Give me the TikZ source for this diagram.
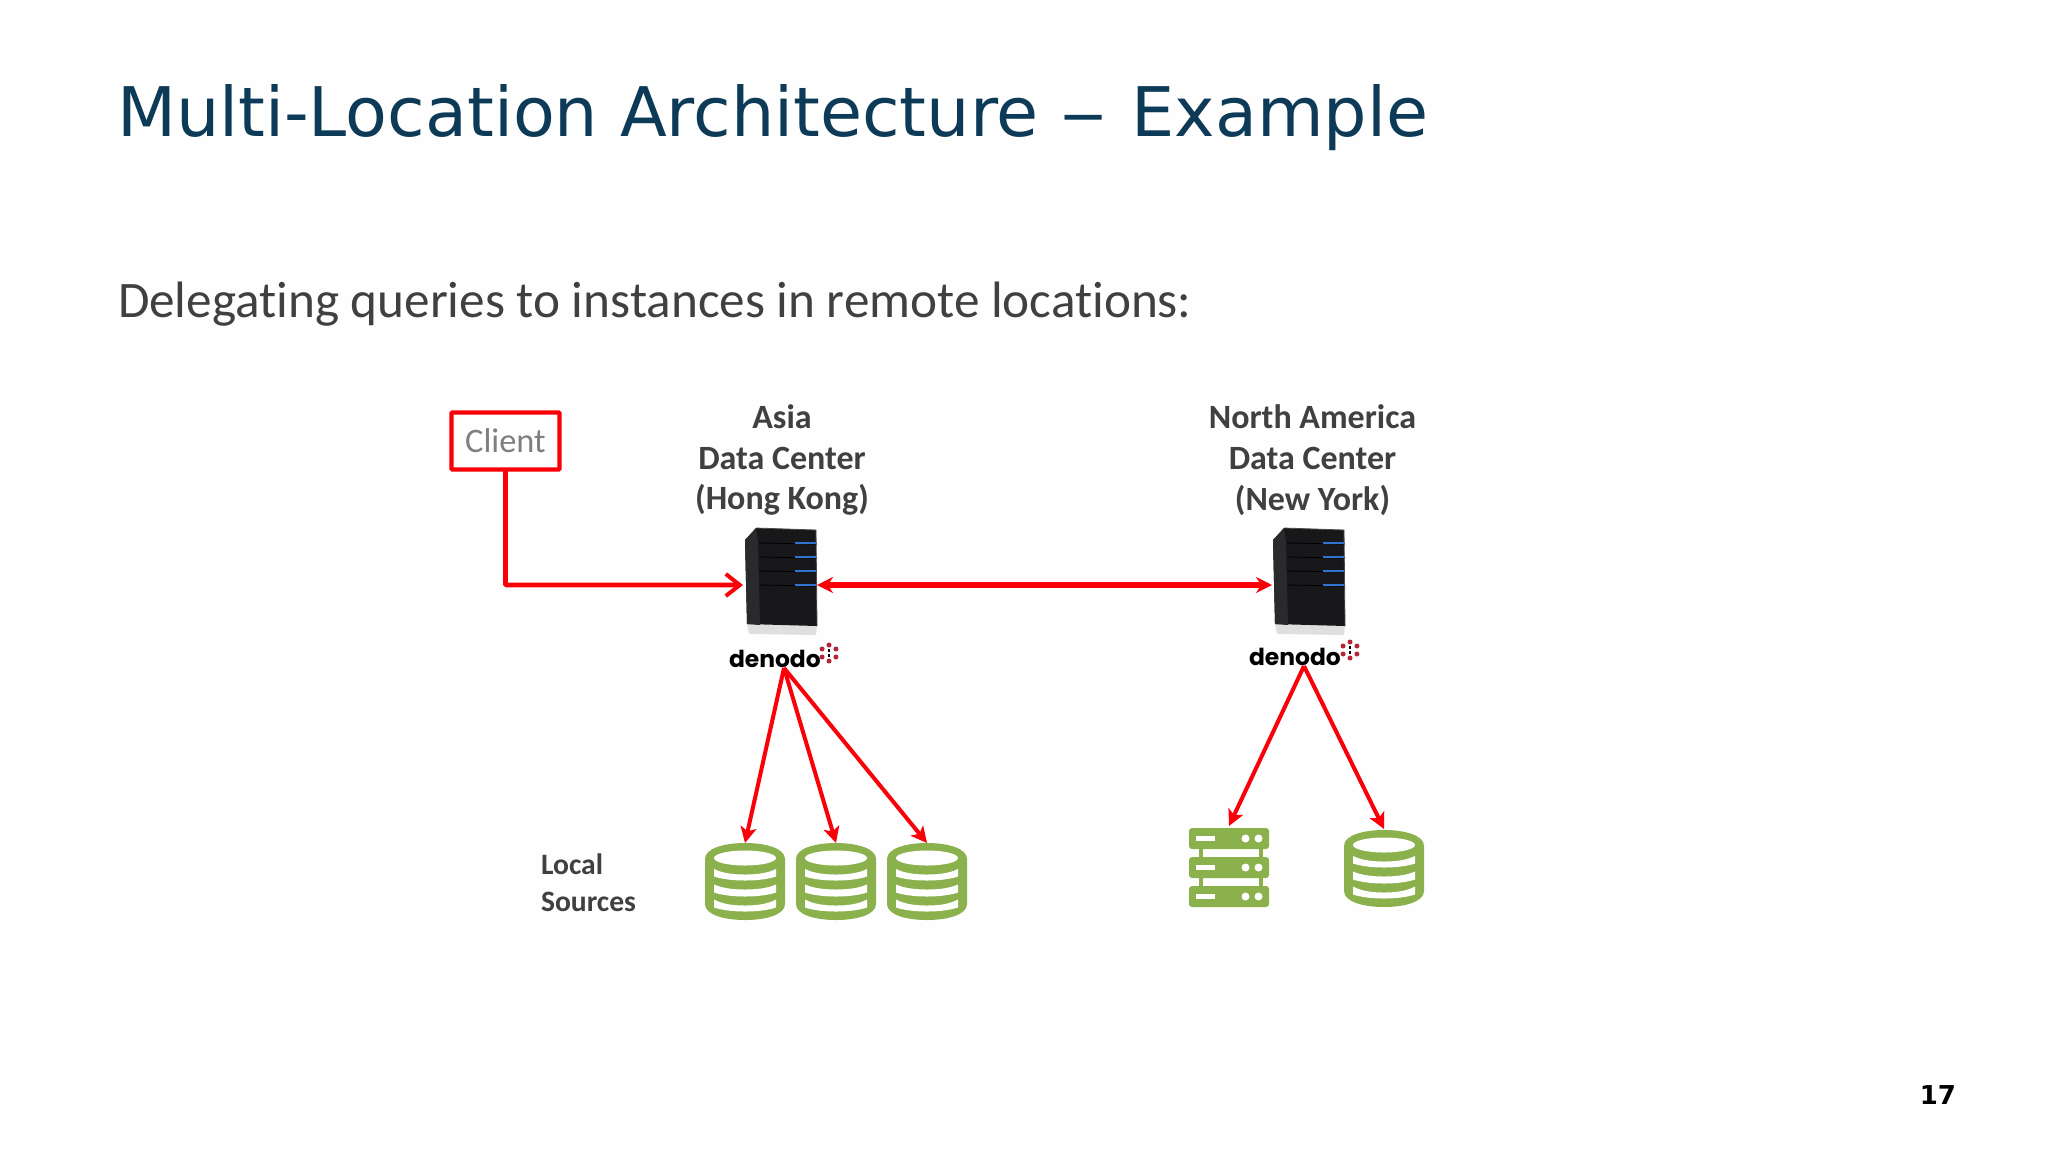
\documentclass[tikz,border=0pt]{standalone}
\usepackage{fontspec}
\setmainfont[Ligatures=NoCommon]{Carlito}
\newfontfamily\titlefont{DejaVu Sans}
\newfontfamily\logofont{Poppins}
\usetikzlibrary{arrows.meta}
\definecolor{titleblue}{HTML}{0C3A57}
\definecolor{bodygrey}{HTML}{404040}
\definecolor{clientgrey}{HTML}{7F7F7F}
\definecolor{linkred}{HTML}{FA0008}
\definecolor{srcgreen}{HTML}{8AB14C}
\definecolor{towerdark}{HTML}{18181A}
\definecolor{towerside}{HTML}{2A2A2C}
\definecolor{ledblue}{HTML}{2F74D0}
\definecolor{dotred}{HTML}{B5253A}
\tikzset{
  txt/.style={inner sep=0pt,outer sep=0pt},
  hub/.style={txt,align=center,text=bodygrey,font=\fontsize{17}{20.4}\selectfont\bfseries},
  link/.style={linkred,line width=2.4pt,-{Straight Barb[length=7pt,width=11pt,line width=2pt]}},
  both/.style={linkred,line width=2.6pt,{Stealth[length=8pt,width=8pt]}-{Stealth[length=8pt,width=8pt]}},
  flow/.style={linkred,line width=2pt,-{Stealth[length=8pt,width=8pt,inset=2pt]}},
  logo/.style={txt,anchor=base west,font=\logofont\fontsize{11.7}{14}\selectfont\bfseries},
}
% database icon, centred on x=#1, top at y=#2
\newcommand{\dbicon}[2]{
  \begin{scope}[shift={(#1,#2)}]
    \fill[srcgreen] (-40,16) .. controls (-40,5) and (-20,0) .. (0,0)
      .. controls (20,0) and (40,5) .. (40,16) -- (40,61)
      .. controls (40,72) and (20,77) .. (0,77)
      .. controls (-20,77) and (-40,72) .. (-40,61) -- cycle;
    \fill[white] (0,15) ellipse (31 and 7.5);
    \fill[white] (-31,26) .. controls (-22,30.5) and (-10,31.5) .. (0,31.5)
      .. controls (10,31.5) and (22,30.5) .. (31,26) -- (31,33.5)
      .. controls (22,36.5) and (10,37.5) .. (0,37.5)
      .. controls (-10,37.5) and (-22,36.5) .. (-31,33.5) -- cycle;
    \fill[white] (-31,41.5) .. controls (-22,45.5) and (-10,46.5) .. (0,46.5)
      .. controls (10,46.5) and (22,45.5) .. (31,41.5) -- (31,49.5)
      .. controls (22,52.5) and (10,53.5) .. (0,53.5)
      .. controls (-10,53.5) and (-22,52.5) .. (-31,49.5) -- cycle;
    \fill[white] (-31,56.5) .. controls (-22,61.5) and (-10,62.5) .. (0,62.5)
      .. controls (10,62.5) and (22,61.5) .. (31,56.5) -- (31,64.5)
      .. controls (22,67.5) and (10,68.5) .. (0,68.5)
      .. controls (-10,68.5) and (-22,67.5) .. (-31,64.5) -- cycle;
  \end{scope}
}
% one row of the rack icon, left edge x=0, top at y=#1
\newcommand{\rackrow}[1]{
  \fill[srcgreen,rounded corners=1.5pt] (0,#1) rectangle (80,#1+21);
  \fill[white] (7,#1+8) rectangle (26,#1+13);
  \fill[white] (56.5,#1+10.5) circle (4);
  \fill[white] (69.5,#1+10.5) circle (4);
}
% server tower, left edge x=#1
\newcommand{\tower}[1]{
  \begin{scope}[shift={(#1,528)}]
    \fill[gray!25] (2,95) -- (72,97) -- (71,107) -- (4,106) -- cycle;
    \fill[towerdark] (11,0) -- (71,2) -- (72,98) -- (2,96) -- (0,12) -- cycle;
    \fill[towerside] (0,12) -- (11,0) -- (13,15) -- (15,97) -- (2,96) -- cycle;
    \foreach \yy in {15,29,43,57}{
      \draw[black,line width=0.4pt] (14,\yy) -- (72,\yy+1);
      \draw[ledblue,line width=1.3pt] (50,\yy) -- (71,\yy);
    }
    \draw[gray!60!black,line width=0.4pt] (11,0) -- (71,2) -- (72,98);
  \end{scope}
}
% red dots beside the logo, centred on (#1,#2)
\newcommand{\logodots}[2]{
  \begin{scope}[shift={(#1,#2)}]
    \foreach \aa in {0,60,...,300}
      \fill[dotred] (\aa+30:8) circle (2.5);
    \fill[black] (-1.2,-3.6) rectangle (1.2,-1.2);
    \fill[black] (-1.2,1.2) rectangle (1.2,3.6);
  \end{scope}
}
\begin{document}
\begin{tikzpicture}[x=0.5pt,y=-0.5pt]
  \useasboundingbox (0,0) rectangle (2048,1152);
  \fill[white!99.5!black] (0,0) rectangle (2048,1152);

  \node[txt,anchor=base west,text=titleblue,font=\titlefont\fontsize{34.2}{40}\selectfont] (title) at (117,136) {Multi-Location Architecture \scalebox{1.35}[1]{–}\kern1.6pt{} Example};
  \node[txt,anchor=base west,text=bodygrey,font=\fontsize{25.6}{30}\selectfont] (lead) at (118,317) {Delegating queries to instances in remote locations:};

  \node[txt,draw=linkred,line width=2.2pt,rounded corners=0.5pt,minimum width=54pt,minimum height=28.5pt,text=clientgrey,font=\fontsize{17.2}{20}\selectfont] (client) at (505.5,441) {Client};

  \node[hub] (asia) at (782,460) {Asia\\Data Center\\(Hong Kong)};
  \node[hub] (na) at (1312.5,460) {North America\\Data Center\\(New York)};

  \tower{745}
  \tower{1273}
  \coordinate (towerA) at (743,585);
  \coordinate (towerAr) at (817,585);
  \coordinate (towerB) at (1272,585);
  \coordinate (inA) at (505.5,585);

  \node[logo] (logoA) at (729,667) {denodo};
  \node[logo] (logoB) at (1249,665) {denodo};
  \logodots{829}{653}
  \logodots{1350}{650}
  \coordinate (outA) at (784,668);
  \coordinate (outB) at (1304,666);

  \dbicon{745}{843}
  \dbicon{836}{843}
  \dbicon{927}{843}
  \dbicon{1384}{830}
  \begin{scope}[shift={(1189,0)}]
    \fill[srcgreen] (10,840) rectangle (14,895);
    \fill[srcgreen] (70,840) rectangle (74,895);
    \rackrow{828}
    \rackrow{857}
    \rackrow{886}
  \end{scope}
  \coordinate (dbA) at (745,843);
  \coordinate (dbB) at (836,843);
  \coordinate (dbC) at (927,843);
  \coordinate (rack) at (1229,826);
  \coordinate (dbD) at (1384,829);

  \node[txt,anchor=north west,align=left,text=bodygrey,font=\fontsize{14.8}{18.5}\selectfont\bfseries] (local) at (541,854) {Local\\Sources};
  \node[txt,anchor=base east,font=\titlefont\fontsize{13}{16}\selectfont\bfseries] (page) at (1956,1104) {17};

  \draw[link,rounded corners=0.5pt] (client.south) -- (inA) -- (towerA);
  \draw[both] (towerAr) -- (towerB);
  \draw[flow] (outA) -- (dbA);
  \draw[flow] (outA) -- (dbB);
  \draw[flow] (outA) -- (dbC);
  \draw[flow] (outB) -- (rack);
  \draw[flow] (outB) -- (dbD);
\end{tikzpicture}
\end{document}
